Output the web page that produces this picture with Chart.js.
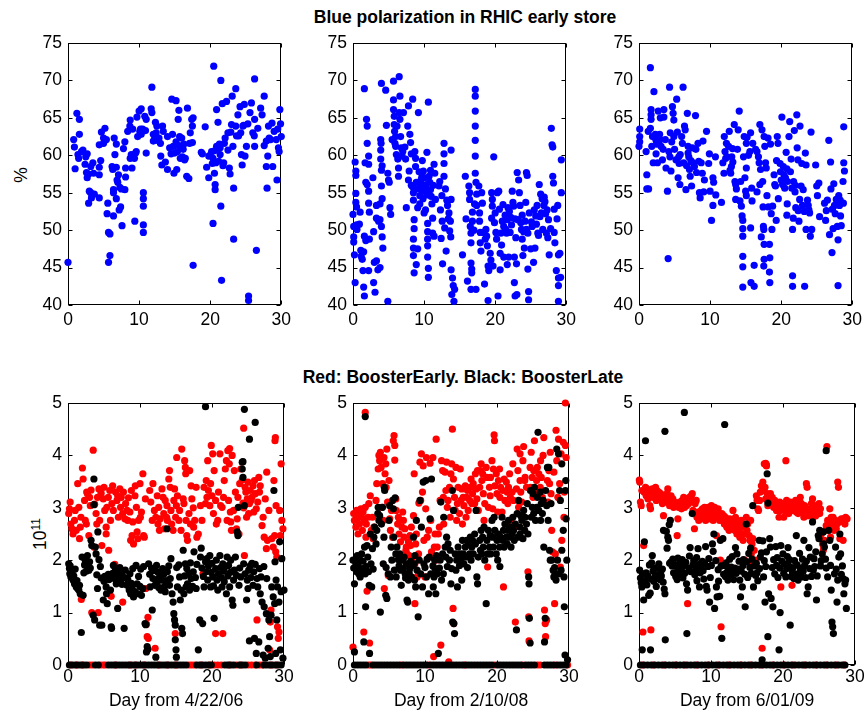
<!DOCTYPE html>
<html>
<head>
<meta charset="utf-8">
<script src="https://cdn.jsdelivr.net/npm/chart.js@4.4.1/dist/chart.umd.min.js"></script>
<style>
body { margin: 0; background: #fff; width: 868px; height: 713px; overflow: hidden; position: relative; font-family: "Liberation Sans", Arial, sans-serif; color: #000; }
canvas { position: absolute; }
.suptitle { position: absolute; font-weight: bold; font-size: 17.5px; white-space: nowrap; transform: translate(-50%, -50%); }
.ylab { position: absolute; font-size: 17.5px; white-space: nowrap; transform: translate(-50%, -50%) rotate(-90deg); }
.ylab sup { font-size: 12px; }
</style>
</head>
<body>
<div class="suptitle" style="left:465px; top:17px">Blue polarization in RHIC early store</div>
<div class="suptitle" style="left:463px; top:377px">Red: BoosterEarly. Black: BoosterLate</div>
<div class="ylab" style="left:21px; top:175px">%</div>
<div class="ylab" style="left:40px; top:534px">10<sup>11</sup></div>

<canvas id="pol06" width="296" height="340" style="left:0px; top:0px"></canvas>
<canvas id="pol08" width="296" height="340" style="left:285px; top:0px"></canvas>
<canvas id="pol09" width="296" height="340" style="left:571px; top:0px"></canvas>
<canvas id="int06" width="296" height="373" style="left:0px; top:340px"></canvas>
<canvas id="int08" width="296" height="373" style="left:285px; top:340px"></canvas>
<canvas id="int09" width="296" height="373" style="left:571px; top:340px"></canvas>

<script>
// ---- data: [day, value] ----
const xTicks = [0, 10, 20, 30];
const polTicks = [40, 45, 50, 55, 60, 65, 70, 75];
const intTicks = [0, 1, 2, 3, 4, 5];
const dayLabels = ['Day from 4/22/06', 'Day from 2/10/08', 'Day from 6/01/09'];

// blue polarization (%), 2006
const pol2006 = [
[0,45.7],[0.8,62.1],[0.9,61.1],[1.0,58.2],[1.25,65.6],[1.6,64.8],[1.6,62.8],[1.4,60.1],[1.5,59.6],[1.9,60.5],[2.1,60.7],
[2.4,58.8],[2.7,60.2],[2.6,57.7],[2.7,57.0],[2.9,57.5],[3.0,55.2],[2.9,53.6],[3.2,55.0],[3.3,54.3],[3.5,59.0],[3.2,58.5],[3.7,54.8],
[4.4,61.4],[4.4,58.4],[4.4,57.4],[4.4,54.3],[4.6,59.3],[4.7,63.1],[5.0,62.3],[5.2,63.6],[5.0,61.6],[5.4,62.1],
[5.6,53.6],[5.7,49.7],[5.9,49.5],[5.7,45.7],[5.9,46.6],[5.5,52.2],
[6.2,58.5],[6.3,58.1],[6.4,55.4],[6.4,55.0],[6.4,51.9],[6.5,62.3],[6.6,60.1],[6.8,61.5],[6.8,58.4],[6.8,54.2],
[6.9,56.7],[7.0,56.4],[7.1,57.4],[7.2,52.7],[7.4,53.1],[7.3,55.7],[7.5,55.5],[7.6,50.6],
[7.8,60.9],[8.0,61.8],[8.1,58.3],[8.1,57.1],[8.0,55.4],
[8.4,63.2],[8.7,63.9],[8.75,64.7],[8.9,60.1],[8.75,59.6],[9.0,58.3],[9.1,63.5],
[9.35,59.6],[9.5,60.3],[9.6,60.5],[9.4,51.2],[9.7,65.1],
[10.0,65.9],[10.3,66.2],[10.1,63.2],[10.3,62.8],[10.5,63.5],[10.6,55.0],[10.6,54.2],[10.6,53.2],[10.6,50.7],[10.6,49.7],
[10.8,65.2],[11.0,64.8],[11.0,60.3],[10.9,63.3],
[11.7,66.2],[11.8,69.1],[11.8,65.7],[12.0,62.8],[12.0,61.9],
[12.3,64.4],[12.4,63.0],[12.5,63.9],[12.8,62.3],[13.0,61.6],[13.05,59.9],[13.2,58.7],
[13.3,63.9],[13.4,63.2],[13.7,59.1],[14.0,62.5],[14.0,58.1],
[14.6,67.5],[14.7,62.8],[14.8,61.2],[15.0,60.3],[14.9,57.6],
[15.2,67.3],[15.3,58.1],[15.5,64.8],[15.6,66.0],[15.6,61.3],[15.8,59.6],[16.0,62.3],[16.1,59.8],[16.2,60.8],
[16.4,59.4],[16.5,59.6],[16.8,66.3],[16.7,57.2],[17.0,56.9],
[17.1,61.6],[17.2,63.0],[17.5,63.9],[17.4,64.8],[17.6,65.0],[17.5,61.7],[17.6,45.3],
[18.75,60.4],[18.9,60.2],[19.3,63.8],[19.5,58.4],[19.8,59.9],[19.8,57.0],
[20.2,60.5],[20.4,59.6],[20.4,50.9],[20.5,71.9],[20.6,57.6],[20.7,56.1],[20.7,55.4],[20.9,66.1],[20.9,61.2],[21.1,64.4],[21.2,59.2],
[21.4,61.0],[21.4,60.1],[21.5,70.0],[21.5,53.2],[21.6,43.3],[21.7,66.9],[21.8,58.6],[21.9,59.0],[22.1,62.3],[22.3,67.2],[22.5,63.0],[22.5,60.7],
[22.7,58.3],[22.8,57.5],[22.9,63.1],[23.0,64.1],[23.1,67.9],[23.2,61.2],[23.3,55.6],[23.3,48.8],[23.6,68.9],
[23.6,63.9],[23.7,62.6],[23.9,65.4],[24.2,66.5],[24.3,63.0],[24.4,60.1],[24.5,58.7],[24.6,63.9],[24.8,66.8],
[24.9,59.9],[25.1,61.2],[25.4,41.2],[25.4,40.6],[25.6,65.7],[25.8,67.0],[26.0,63.0],[26.2,62.6],[26.25,70.2],[26.25,61.2],[26.25,64.8],[26.5,47.3],[26.7,63.6],
[27.1,66.3],[27.3,65.4],[27.6,67.9],[27.6,61.3],[27.9,61.9],[27.9,58.5],[28.0,55.6],[28.1,59.9],[28.2,63.9],
[28.5,62.1],[28.7,64.3],[28.8,58.5],[29.0,63.2],[29.3,62.1],[29.4,56.7],[29.6,61.0],[29.8,66.1],[29.9,64.2],[29.7,60.5],[30,62.5],
[20.0,60.0],[20.3,58.9],[20.6,60.6],[20.8,59.0],[21.0,60.8],[21.3,61.5],[15.2,61.8],[15.4,60.5],[15.7,62.5],[16.3,61.5],[14.3,61.0],
[14.5,60.2],[12.6,62.0],[12.2,62.5],[9.2,59.8],[9.8,62.5],[10.2,63.5],[22.0,61.6],[24.0,62.6],[24.7,64.0],[25.3,64.2],[28.3,62.3],
[29.5,63.5],[3.6,57.6],[2.5,59.8]
];

// blue polarization (%), 2008
const pol2008 = [
[0,52.1],[0.1,50.5],[0.1,49.1],[0.1,48.4],[0.2,46.7],[0.3,43.0],[0.3,59.1],[0.4,57.9],[0.4,57.3],[0.4,54.9],[0.4,53.7],[0.5,53.1],[0.5,50.7],[0.56,50.1],
[0.9,50.8],[1.0,52.4],[1.1,47.3],[1.15,46.5],[1.3,46.1],[1.4,44.6],[1.5,47.1],[1.5,42.4],[1.6,68.9],[1.6,41.2],
[1.6,49.2],[1.7,59.0],[1.8,56.4],[1.8,48.6],[1.9,64.8],[2.0,63.9],[2.0,61.6],[2.0,56.1],[2.2,58.8],[2.2,59.9],[2.2,55.2],[2.2,53.6],[2.3,52.4],[2.3,48.8],[2.2,44.6],
[2.8,57.0],[2.9,49.8],[2.9,43.0],[3.0,45.7],[3.1,41.7],[3.3,51.6],[3.3,53.3],[3.3,45.9],[3.5,44.7],[3.6,51.2],
[3.8,51.4],[3.8,53.5],[3.9,60.7],[3.9,62.1],[3.95,61.6],[3.9,59.5],[4.0,58.0],[4.1,58.6],[4.0,55.9],[4.1,54.2],[4.0,50.5],[4.1,49.1],[4.2,47.6],[4.0,69.6],[3.8,45.0],
[4.6,68.7],[4.7,64.0],[4.9,57.6],[4.9,40.5],[5.0,56.7],[5.1,56.4],[5.2,53.0],[5.3,52.1],
[5.5,62.1],[5.7,69.9],[5.7,67.4],[5.7,66.1],[5.8,65.2],[5.8,64.1],[5.85,63.2],[5.9,61.6],[6.0,62.5],[6.0,61.2],[6.1,60.1],[6.2,63.9],
[6.4,58.3],[6.4,57.2],[6.5,70.5],[6.6,67.9],[6.5,65.7],[6.6,64.8],[6.7,62.5],[6.8,61.0],[6.9,59.9],[7.1,65.7],
[7.3,61.1],[7.4,59.5],[7.5,53.0],[7.7,63.9],[7.8,66.6],[7.8,56.7],[7.9,57.9],[8.0,62.8],[8.1,61.7],[8.2,60.2],[8.4,67.5],[8.4,55.8],
[8.5,55.0],[8.5,54.0],[8.5,48.8],[8.5,47.6],[8.5,46.6],[8.6,44.3],[8.6,50.2],[8.6,51.4],[8.7,60.5],[8.8,59.6],[8.8,58.5],[8.9,56.4],[8.9,45.4],[9.1,47.5],[9.1,53.0],
[9.2,65.7],[9.3,55.6],[9.4,54.6],[9.4,53.5],[9.5,56.3],[9.7,57.2],[9.75,59.3],[9.75,55.2],[9.85,54.2],[9.9,57.9],[10.0,52.3],[10.0,55.8],
[10.2,52.7],[10.3,56.1],[10.4,54.7],[10.4,60.4],[10.5,50.9],[10.5,49.8],[10.5,48.8],[10.5,47.9],[10.5,46.4],[10.6,44.9],[10.6,43.7],[10.6,67.1],
[10.7,57.2],[10.8,56.4],[10.9,55.4],[11.1,53.5],[11.2,51.6],[11.2,49.6],[11.4,49.2],[11.4,58.8],[11.5,57.6],[11.6,54.1],
[12.1,55.9],[12.2,56.5],[12.3,52.7],[12.4,48.9],[12.5,54.6],[12.55,51.2],[12.6,45.5],[12.8,61.6],[12.8,60.2],[12.8,58.9],[12.8,57.2],[12.9,50.3],[13.0,55.5],
[13.1,47.2],[13.2,54.0],[13.3,53.3],[13.4,51.5],[13.5,52.3],[13.6,49.9],[13.7,51.2],[13.75,49.1],[13.8,60.7],[13.8,54.1],[13.8,44.7],
[13.9,41.4],[14.0,43.6],[14.1,42.6],[14.2,40.5],[14.3,42.1],
[15.4,46.7],[15.8,57.2],[15.9,51.5],[16.1,43.2],[16.3,55.9],[16.4,55.0],[16.4,54.1],[16.5,50.5],[16.6,49.6],[16.6,48.3],[16.6,45.6],[16.7,44.8],[16.7,44.3],[16.6,42.1],
[16.8,51.2],[16.8,52.4],[17.0,50.0],[17.1,53.5],[17.2,57.6],[17.2,68.8],[17.2,67.9],[17.2,65.9],[17.2,63.9],[17.2,62.0],[17.2,59.9],[17.3,56.4],[17.3,42.1],[17.4,54.8],[17.4,53.3],
[17.7,55.9],[17.8,52.3],[17.8,51.2],[17.9,49.7],[17.9,48.3],[18.0,47.2],[18.1,55.0],[18.2,53.6],[18.3,49.7],
[18.5,42.8],[18.6,48.8],[18.7,50.1],[18.8,49.2],[18.9,47.9],[19.0,45.2],[19.0,40.6],[19.1,44.6],[19.3,46.9],
[19.4,46.0],[19.5,51.6],[19.5,55.0],[19.6,54.1],[19.6,53.2],[19.7,45.2],[19.8,59.8],[19.9,51.0],[20.0,52.3],[20.1,49.7],[20.2,48.8],
[20.3,55.0],[20.4,41.2],[20.5,55.2],[20.7,44.7],[20.7,46.9],[20.8,49.6],[20.9,48.0],[21.0,51.2],[21.1,53.4],[21.2,46.4],
[21.4,52.0],[21.5,50.1],[21.6,49.6],[21.7,45.4],[21.7,51.4],[21.8,53.0],[21.9,46.4],[22.1,49.7],[22.2,51.7],[22.3,50.7],
[22.4,55.2],[22.5,53.7],[22.6,53.2],[22.7,43.0],[22.7,46.4],[22.8,41.2],[22.9,49.0],[23.0,45.5],[23.05,41.4],[23.1,57.7],[23.2,51.4],[23.3,56.7],
[23.4,55.0],[23.5,53.3],[23.7,50.1],[23.8,48.8],[23.8,52.0],[23.9,46.6],[24.1,47.6],[24.2,51.2],[24.3,53.7],[24.4,50.1],
[24.4,57.7],[24.5,57.3],[24.6,49.6],[24.6,44.8],[24.7,41.8],[24.7,40.7],[24.8,52.3],[25.0,47.5],[25.1,51.1],[25.4,45.7],
[25.5,52.7],[25.6,47.6],[25.7,51.9],[25.9,53.3],[26.0,49.6],[26.1,49.3],[26.2,56.1],[26.4,54.8],[26.5,52.3],[26.6,54.2],[26.7,50.1],
[26.85,53.3],[26.9,54.4],[27.0,53.8],[27.2,49.6],[27.3,52.7],[27.4,49.0],[27.5,51.4],[27.6,46.7],[27.8,50.2],[27.9,63.6],[28.0,61.4],[28.1,61.1],[28.1,57.2],[28.2,56.3],[28.3,52.8],[28.3,49.7],[28.4,48.3],
[28.6,44.6],[28.7,51.5],[28.8,53.3],[28.9,46.7],[28.9,43.6],[28.9,42.6],[28.9,40.5],[29.1,46.9],[29.2,43.7],[29.3,59.4],[29.3,55.0],
[9.0,55.5],[9.6,56.8],[10.1,57.0],[10.6,55.2],[11.0,54.5],[11.3,56.0],[9.3,57.8],[10.9,58.0],[22.0,52.5],[22.8,51.5],[23.6,51.0],
[24.0,49.8],[25.2,50.5],[25.8,50.8],[26.3,51.8],[27.1,52.2],[21.2,50.5],[20.6,52.8],[8.2,56.0],[7.0,60.5],[6.3,59.5]
];

// blue polarization (%), 2009
const pol2009 = [
[0,61.2],[0.1,63.5],[0.1,62.5],[0.1,61.8],[1.1,57.4],[1.1,55.5],[1.35,55.5],
[1.6,71.7],[1.7,66.1],[1.7,65.4],[1.7,64.8],[1.6,63.6],[1.8,61.2],[1.9,62.5],[2.0,59.0],[2.1,68.5],[2.3,62.8],[2.4,62.0],[2.4,60.2],[2.6,59.0],
[2.7,65.9],[2.9,62.8],[3.0,62.1],[3.0,65.0],[3.1,61.2],[3.3,59.4],[3.5,66.1],[3.5,65.1],[3.7,62.1],
[3.8,58.3],[4.0,55.2],[4.1,46.2],[4.2,60.5],[4.3,69.1],[4.35,59.8],[4.4,63.0],[4.5,57.9],[4.7,66.5],[4.8,65.6],[4.9,64.7],[4.9,62.5],[5.0,60.8],
[5.2,59.4],[5.3,67.5],[5.4,63.1],[5.5,57.0],[5.65,58.9],[5.75,56.1],[5.8,60.1],[6.0,62.5],[6.1,61.6],[6.2,69.1],[6.3,59.0],
[6.4,63.9],[6.5,63.4],[6.6,55.4],[6.7,58.6],[6.8,65.6],[6.9,61.2],[7.0,59.8],[7.1,58.1],[7.2,57.2],[7.4,55.9],[7.5,61.0],[7.6,59.0],
[7.8,58.5],[7.95,65.3],[8.0,60.8],[8.1,57.7],[8.3,61.6],[8.5,55.0],[8.6,54.3],[8.75,59.0],[8.9,57.6],[9.0,61.9],[9.1,55.1],[9.2,56.7],
[9.5,63.2],[9.8,58.9],[9.9,60.2],[10.0,55.2],[10.2,51.3],[10.4,57.0],[10.4,53.3],[10.5,56.4],[10.75,59.8],[10.8,54.7],
[11.6,53.7],[11.8,59.0],[11.95,57.6],[12.0,62.5],[12.1,60.5],[12.2,59.6],[12.3,61.6],[12.6,61.2],[12.7,63.2],[12.8,58.0],
[12.9,57.6],[13.05,59.8],[13.15,60.9],[13.2,59.1],[13.4,64.1],[13.5,56.5],[13.6,56.1],[13.7,55.5],[13.6,54.1],[13.85,60.8],[13.95,63.4],
[14.1,65.9],[14.2,53.9],[14.3,56.5],[14.4,53.2],[14.5,51.9],[14.6,51.3],[14.6,50.2],[14.6,49.2],[14.6,46.5],[14.6,45.1],[14.6,42.4],[14.7,59.8],[14.8,62.5],
[14.9,57.0],[15.0,55.2],[15.1,54.6],[15.1,58.3],[15.1,61.6],[15.2,62.4],[15.4,60.0],[15.6,60.5],[15.7,63.0],[15.7,50.3],[15.75,43.0],
[15.85,55.6],[15.9,53.9],[16.0,61.6],[16.2,45.3],[16.2,42.5],[16.4,60.8],[16.6,60.5],[16.6,55.1],[16.8,59.8],[16.9,59.0],[17.0,64.1],
[17.0,56.1],[17.1,58.1],[17.2,49.1],[17.3,63.4],[17.4,56.5],[17.45,53.1],[17.5,50.5],[17.55,50.1],[17.6,48.1],[17.6,46.1],[17.55,45.2],[17.6,62.5],[17.7,61.2],
[17.8,59.0],[17.9,58.3],[18.0,54.6],[18.15,62.3],[18.2,53.1],[18.35,48.1],[18.35,44.4],[18.4,46.3],[18.4,43.0],[18.5,61.5],[18.6,52.2],[18.7,50.1],[18.8,53.2],
[19.0,57.4],[19.1,56.1],[19.2,55.9],[19.3,51.3],[19.35,59.3],[19.45,62.5],[19.55,61.6],[19.6,54.2],[19.85,58.9],[20.0,56.7],
[20.1,65.1],[20.2,56.1],[20.3,58.5],[20.4,57.4],[20.5,55.6],[20.7,60.4],[20.8,52.0],[20.8,58.2],[20.85,53.5],[20.9,56.5],
[21.1,62.5],[21.2,64.5],[21.3,57.8],[21.4,59.5],[21.5,55.6],[21.6,50.1],[21.6,43.9],[21.6,42.5],[21.7,51.6],[21.75,56.5],[21.85,63.3],
[21.95,55.1],[22.05,53.0],[22.2,65.4],[22.25,61.0],[22.35,59.4],[22.4,52.6],[22.5,51.2],[22.6,54.1],[22.65,63.9],[22.8,55.9],[22.9,58.9],
[23.0,53.3],[23.1,55.4],[23.25,52.5],[23.3,42.5],[23.4,60.3],[23.5,50.1],[23.5,58.7],[23.7,54.0],[23.9,52.7],[24.0,52.3],[24.1,49.2],
[24.2,63.1],[24.3,50.1],[24.85,58.7],[25.0,55.9],[25.1,54.6],[25.3,56.3],[25.4,51.8],[26.1,53.6],[26.25,51.3],[26.35,52.6],[26.5,54.0],
[26.7,62.0],[26.8,49.4],[26.95,59.1],[27.0,55.5],[27.15,47.0],[27.3,50.2],[27.4,56.2],[27.5,53.3],[27.6,52.2],[27.75,54.1],[27.9,50.5],[28.0,48.7],[28.0,42.6],
[28.1,54.6],[28.2,53.3],[28.35,51.9],[28.45,50.6],[28.7,56.5],[28.75,53.6],[28.8,63.8],[28.8,59.0],[28.9,57.9],
[2.5,61.5],[3.4,60.8],[4.6,61.8],[5.6,59.8],[6.9,60.3],[7.3,59.3],[8.4,59.2],[12.4,59.8],[13.0,58.5],[19.9,57.8],[20.6,57.0],
[22.0,56.0],[23.8,53.3],[27.2,52.8],[28.3,54.0],[1.0,60.5],[1.3,63.2]
];

// intensity (1e11), 2006: BoosterEarly (red), BoosterLate (black)
const early2006 = [
[0.1,2.89],[0.2,2.98],[0.3,3.11],[0.4,2.69],[0.55,2.6],[0.7,2.5],[0.9,2.76],[1.0,2.95],[1.15,2.57],[1.35,3.46],[1.5,3.01],[1.6,2.41],[1.7,2.63],[1.8,2.82],[1.85,1.25],
[2.0,3.76],[2.1,3.55],[2.3,3.14],[2.4,2.76],[2.55,2.69],[2.6,3.3],[2.7,3.27],[2.9,2.47],[3.0,3.2],[3.1,3.04],[3.2,3.34],[3.3,1.0],[3.5,4.1],[3.6,2.25],[3.7,3.07],
[3.9,2.89],[4.0,2.69],[4.1,3.2],[4.2,1.0],[4.3,3.36],[4.4,2.76],[4.6,3.28],[4.7,2.28],[4.9,3.17],[5.0,3.39],[5.1,2.95],[5.3,2.63],
[5.3,2.5],[5.4,3.01],[5.6,3.2],[5.65,2.19],[5.8,3.33],[5.9,2.76],[6.0,1.31],[6.1,3.08],[6.2,3.42],[6.3,2.95],[6.5,1.92],
[6.6,3.3],[6.8,3.14],[6.9,3.23],[7.0,2.82],[7.2,3.36],[7.3,3.01],[7.4,3.2],[7.6,2.89],[7.6,1.2],[7.7,3.3],[7.9,2.79],[8.0,3.08],
[8.2,2.95],[8.3,2.76],[8.4,3.19],[8.6,2.92],[8.7,2.38],[8.8,3.33],[8.9,2.47],[9.0,2.73],[9.1,2.31],[9.3,3.23],[9.35,3.42],[9.5,3.01],
[9.6,2.54],[9.7,2.41],[9.8,2.76],[10.0,3.46],[10.05,2.82],[10.2,2.92],[10.4,3.65],[10.5,2.47],[10.6,2.44],[10.75,3.17],[10.9,0.78],[11.0,0.54],[11.1,0.91],[11.15,0.51],[10.8,1.46],
[11.35,3.33],[11.5,3.11],[11.7,2.76],[11.8,3.46],[12.0,2.95],[12.1,0.32],[12.2,2.82],[12.4,3.23],[12.5,2.69],[12.6,3.01],[12.7,2.57],[12.8,2.79],
[13.05,3.36],[13.2,3.2],[13.3,2.89],[13.4,2.6],[13.5,3.14],[13.7,2.82],[13.75,3.04],[13.8,2.76],[14.0,3.55],[14.1,3.71],[14.2,3.39],
[14.3,2.95],[14.4,2.69],[14.6,2.57],[14.7,3.14],[14.8,3.36],[14.9,0.6],[14.95,2.82],[15.05,3.04],[15.1,3.96],[15.2,3.23],[15.4,2.76],[15.5,2.95],
[15.7,2.57],[15.8,4.12],[16.0,3.17],[16.1,3.08],[16.2,3.9],[16.3,3.77],[16.35,3.65],[16.4,2.76],[16.5,2.47],[16.6,2.38],[16.8,2.89],[16.9,3.71],
[17.0,2.69],[17.1,3.42],[17.2,3.17],[17.4,3.0],[17.45,2.63],[17.6,2.76],[17.8,3.39],[17.9,2.44],[18.1,2.5],[18.4,3.04],
[18.6,2.76],[18.75,1.74],[18.9,3.39],[19.1,3.08],[19.2,3.52],[19.3,3.2],[19.4,3.9],[19.5,3.33],[19.7,3.04],[19.8,3.46],[19.9,4.19],[20.0,3.23],
[20.1,4.03],[20.2,2.89],[20.3,3.71],[20.5,3.14],[20.5,0.6],[20.6,2.69],[20.8,2.76],[20.9,3.3],[21.1,4.03],[21.2,3.04],[21.4,3.01],[21.5,0.6],
[21.6,3.2],[21.7,3.52],[21.85,3.74],[22.0,3.9],[22.1,2.76],[22.2,4.09],[22.3,3.14],[22.4,3.84],[22.45,4.13],[22.55,2.92],[22.6,2.73],[22.7,2.57],[22.8,4.0],
[23.0,2.95],[23.1,3.71],[23.25,3.3],[23.4,2.6],[23.5,2.79],[23.6,3.2],[23.75,2.5],[23.85,3.46],[24.0,3.74],[24.2,3.53],
[24.3,3.09],[24.4,3.0],[24.5,2.09],[24.6,3.39],[24.7,3.3],[24.8,2.82],[24.9,3.17],[25.0,3.49],[25.1,2.89],[25.2,3.08],[25.3,3.33],[25.4,3.14],
[25.55,3.2],[25.7,3.42],[25.8,2.92],[25.9,3.52],[26.0,3.27],[26.15,2.98],[26.25,0.86],[26.35,3.11],[26.5,3.58],[26.6,3.3],[26.7,3.42],
[26.95,2.66],[27.1,2.82],[27.25,2.44],[27.4,3.17],[27.55,2.22],[27.6,3.68],[27.7,2.38],[27.9,2.95],[28.0,0.29],[28.1,0.82],[28.2,1.05],
[28.3,2.41],[28.5,2.25],[28.6,3.52],[28.7,2.47],[28.75,4.28],[28.85,2.16],[28.9,3.04],[29.0,2.06],[29.1,0.73],[29.2,0.51],[29.3,0.63],[29.4,2.95],[29.5,2.47],[29.6,3.84],[29.7,2.76],[29.85,2.6],
[24.4,4.52],[28.8,4.34],
[0.4,0],[1.2,0],[2.0,0],[3.0,0],[3.4,0],[4.5,0],[4.9,0],[5.2,0],[6.6,0],[8.6,0],[9.4,0],[10.6,0],[12.6,0],[13.8,0],[15.0,0],[16.8,0],
[17.2,0],[17.6,0],[18.5,0],[19.7,0],[20.3,0],[20.8,0],[21.3,0],[22.4,0],[23.4,0],[24.0,0],[25.0,0],[25.5,0],[26.0,0],[26.6,0],[27.0,0],[28.2,0],[29.0,0]
];

const late2006 = [
[0.1,1.93],[0.2,1.84],[0.25,1.74],[0.3,1.89],[0.4,1.68],[0.55,1.78],[0.7,1.62],[0.8,1.7],[0.9,1.55],[1.0,1.83],[1.15,1.49],[1.25,1.61],[1.35,1.46],[1.5,1.43],[1.6,1.52],[1.7,1.36],[1.85,0.62],
[1.95,2.06],[2.1,1.33],[2.2,1.76],[2.3,1.91],[2.4,2.0],[2.55,1.79],[2.6,1.95],[2.7,2.09],[2.9,1.81],[3.0,1.97],[3.1,1.85],[3.2,2.38],[3.3,2.28],[3.5,0.95],[3.6,3.55],[3.6,3.06],
[3.7,0.86],[3.8,2.25],[3.9,2.12],[4.0,1.72],[4.1,1.46],[4.15,2.54],[4.3,2.01],[4.4,0.76],[4.5,1.88],[4.6,1.66],[4.7,0.76],[4.9,1.24],
[5.0,1.6],[5.1,1.69],[5.3,1.49],[5.35,1.36],[5.45,1.17],[5.6,1.73],[5.7,1.63],[5.9,1.43],[6.0,0.73],[6.05,0.7],[6.2,1.75],[6.3,1.9],[6.4,1.65],
[6.5,1.71],[6.6,1.82],[6.7,1.55],[6.8,1.79],[6.9,1.08],[7.05,1.67],[7.2,1.86],[7.3,1.61],[7.4,1.77],[7.5,1.54],[7.6,1.69],[7.8,0.7],[7.95,1.81],
[8.1,1.66],[8.2,1.52],[8.3,1.63],[8.5,1.43],[8.6,1.74],[8.7,1.36],[8.8,1.56],[8.9,1.49],[9.0,1.84],[9.1,1.3],[9.3,1.4],[9.45,1.9],
[9.6,1.55],[9.75,1.36],[9.8,1.69],[10.0,1.5],[10.1,1.83],[10.2,1.33],[10.4,1.46],[10.5,1.88],[10.7,0.79],[10.8,0.77],[10.9,0.25],[11.0,0.35],[11.1,0.3],
[11.2,1.93],[11.35,1.73],[11.4,1.49],[11.6,1.85],[11.7,1.05],[11.8,1.65],[11.9,1.8],[12.05,1.52],[12.2,0.15],[12.3,1.9],[12.4,1.59],[12.5,1.77],
[12.6,1.48],[12.7,1.67],[12.9,1.43],[13.0,1.62],[13.15,1.84],[13.3,1.73],[13.4,1.5],[13.5,1.4],[13.6,1.61],[13.75,2.6],[13.8,1.78],[14.0,1.89],
[14.1,1.52],[14.2,1.65],[14.3,2.03],[14.45,1.36],[14.6,1.2],[14.7,0.98],[14.8,0.86],[14.9,0.76],[14.9,0.48],[15.0,0.29],[15.05,0.15],[15.1,1.86],[15.2,1.49],
[15.4,1.91],[15.5,1.68],[15.6,1.24],[15.7,1.43],[15.8,0.7],[15.9,0.6],[16.0,2.19],[16.1,1.36],[16.2,1.7],[16.3,1.93],[16.4,1.49],[16.5,1.84],
[16.6,1.55],[16.8,1.75],[16.9,1.43],[17.0,1.95],[17.1,1.65],[17.3,1.5],[17.4,1.78],[17.5,2.16],[17.7,1.67],[17.8,1.46],[17.9,1.92],
[18.1,0.29],[18.3,0.86],[18.4,2.06],[18.5,2.23],[18.6,1.85],[18.7,0.79],[18.8,1.69],[18.9,1.49],[19.1,1.97],[19.2,1.78],[19.3,2.03],[19.4,1.62],
[19.5,1.89],[19.7,2.09],[19.8,1.49],[19.9,1.77],[20.0,1.94],[20.1,1.68],[20.2,1.51],[20.3,0.89],[20.5,1.84],[20.6,2.0],[20.7,1.62],[20.8,1.43],
[20.9,1.74],[21.1,2.09],[21.2,1.86],[21.3,1.67],[21.4,1.49],[21.5,1.93],[21.6,1.79],[21.7,1.59],[21.85,1.88],[22.0,1.36],[22.1,2.06],[22.2,1.7],
[22.3,1.9],[22.45,1.49],[22.55,1.77],[22.6,2.0],[22.8,1.24],[22.9,1.14],[23.0,1.62],[23.1,1.81],[23.25,2.06],[23.4,1.71],[23.5,2.54],[23.6,2.47],[23.65,3.01],
[23.75,1.52],[23.85,1.85],[24.0,1.68],[24.2,3.87],[24.2,3.74],[24.3,3.58],[24.4,1.93],[24.5,3.04],[24.6,1.74],[24.8,1.24],[24.9,1.62],[25.0,1.46],
[25.1,1.81],[25.2,0.46],[25.3,1.89],[25.4,1.67],[25.55,1.94],[25.7,1.52],[25.8,1.78],[25.9,0.51],[26.0,1.92],[26.15,0.22],[26.25,1.65],[26.35,1.49],
[26.5,0.44],[26.6,1.84],[26.7,1.36],[26.8,1.68],[26.95,1.2],[27.1,0.19],[27.2,1.88],[27.25,1.11],[27.4,0.13],[27.55,0.98],[27.6,1.65],
[27.8,0.32],[27.9,0.86],[28.0,0.54],[28.1,0.16],[28.2,0.95],[28.3,1.49],[28.5,1.3],[28.6,3.33],[28.7,1.17],[28.75,1.97],[28.85,0.22],[28.9,1.62],[29.0,0.86],[29.1,1.49],
[29.3,1.2],[29.4,2.35],[29.5,0.29],[29.6,1.4],[29.7,2.03],[29.85,0.13],[30.0,1.43],
[19.1,4.93],[24.5,4.88],[26.0,4.63],[25.2,4.31],[24.3,3.88],
[0.2,0],[0.6,0],[1.0,0],[1.4,0],[1.8,0],[2.2,0],[2.6,0],[3.8,0],[4.2,0],[5.6,0],[6.0,0],[6.4,0],[6.8,0],[7.2,0],[7.6,0],[8.0,0],[8.4,0],[8.8,0],[9.2,0],
[9.6,0],[10.0,0],[10.4,0],[10.8,0],[11.2,0],[11.6,0],[12.0,0],[12.4,0],[12.8,0],[13.2,0],[13.6,0],[14.0,0],[14.4,0],[14.8,0],[15.2,0],[15.6,0],[16.0,0],[16.4,0],
[17.9,0],[18.3,0],[18.7,0],[19.1,0],[19.5,0],[19.9,0],[21.8,0],[22.2,0],[22.6,0],[23.0,0],[23.8,0],[24.2,0],[24.6,0],[26.2,0],
[27.2,0],[27.6,0],[28.0,0],[28.4,0],[28.8,0],[29.2,0],[29.6,0]
];

// intensity (1e11), 2008
const early2008 = [
[0,0.34],[0.1,2.89],[0.2,2.76],[0.4,2.63],[0.5,2.95],[0.6,2.79],[0.7,2.5],[0.8,2.89],[0.9,2.69],[1.1,2.98],[1.2,2.82],[1.3,2.57],[1.4,2.92],[1.5,0.63],[1.6,2.76],[1.7,3.01],
[1.8,2.44],[1.85,2.69],[1.95,1.41],[2.1,2.82],[2.2,3.08],[2.3,0.42],[2.4,3.23],[2.55,2.57],[2.7,2.82],[2.8,2.41],[2.9,2.63],
[3.2,3.14],[3.3,3.46],[3.5,3.74],[3.6,4.0],[3.7,3.9],[3.8,4.06],[3.9,3.77],[4.0,3.01],[4.1,3.46],[4.2,2.76],[4.3,3.96],[4.35,1.46],[4.45,3.65],[4.55,3.84],[4.6,3.39],
[4.7,4.12],[4.8,3.11],[4.9,1.71],[5.0,3.52],[5.1,2.79],[5.2,2.57],[5.35,2.95],[5.5,2.44],[5.6,4.28],[5.7,4.38],[5.8,4.19],[5.8,3.91],[5.95,3.17],
[6.0,2.95],[6.2,2.69],[6.3,2.82],[6.4,2.5],[6.5,2.76],[6.6,2.35],[6.8,2.63],[6.9,2.92],[7.0,2.76],[7.1,2.44],
[7.2,2.6],[7.35,2.19],[7.4,2.25],[7.5,2.12],[7.7,2.35],[7.8,2.09],[7.9,2.47],[8.0,2.28],[8.1,2.63],[8.3,2.06],[8.4,2.85],[8.5,3.65],[8.6,1.93],
[8.6,1.17],[8.7,2.31],[8.8,2.5],[8.9,1.68],[9.1,2.12],[9.15,3.09],[9.3,3.87],[9.4,3.14],[9.5,4.03],[9.65,3.3],[9.75,3.8],[9.85,2.38],[10.0,1.68],
[10.1,2.98],[10.2,3.96],[10.3,2.44],[10.5,2.57],[10.6,2.06],[10.7,3.85],[10.8,2.76],[10.9,2.16],[11.1,3.96],[11.2,0.16],
[11.3,2.25],[11.4,2.5],[11.55,4.31],[11.6,2.0],[11.7,2.25],[11.85,2.5],[12.0,2.63],[12.1,3.14],[12.2,0.38],[12.3,3.9],[12.45,3.71],[12.55,3.2],
[12.6,2.69],[12.8,3.68],[12.9,3.33],[13.0,3.87],[13.1,3.01],[13.2,3.14],[13.3,0.06],[13.4,3.39],[13.5,2.82],[13.6,3.65],[13.7,3.84],
[13.8,4.5],[13.9,1.08],[13.95,3.55],[14.0,0.79],[14.1,3.2],[14.2,2.95],[14.3,3.77],[14.4,2.76],[14.5,3.08],[14.6,3.39],[14.8,2.89],[14.9,3.74],
[15.0,3.14],[15.1,3.36],[15.2,2.69],[15.3,3.2],[15.4,3.04],[15.6,3.42],[15.7,2.82],[15.8,3.2],[15.9,3.33],[16.0,2.95],[16.2,3.14],[16.3,3.39],
[16.4,3.55],[16.5,3.08],[16.6,3.27],[16.7,3.46],[16.9,3.08],[17.0,3.65],[17.1,3.36],[17.2,3.17],[17.3,3.71],[17.4,2.95],[17.6,3.39],
[17.7,3.71],[17.8,3.84],[17.9,3.52],[18.0,3.65],[18.1,3.27],[18.2,2.76],[18.3,3.08],[18.5,3.77],[18.6,3.58],[18.7,1.87],[18.8,3.01],
[18.95,3.39],[19.05,3.23],[19.1,3.58],[19.3,3.9],[19.4,2.98],[19.5,3.74],[19.6,4.39],[19.65,4.28],[19.7,3.42],[19.9,3.65],[20.0,3.27],
[20.1,2.92],[20.2,3.52],[20.35,3.74],[20.4,3.2],[20.5,3.39],[20.7,2.92],[20.8,3.33],[20.9,1.49],[21.0,3.55],[21.1,3.14],[21.3,3.49],
[21.4,3.3],[21.5,3.08],[21.6,3.39],[21.75,3.65],[21.85,3.2],[21.95,2.76],[22.1,3.3],[22.2,3.84],[22.3,3.14],[22.4,2.63],[22.55,0.82],
[22.7,3.36],[22.8,4.12],[22.9,3.71],[23.0,3.01],[23.2,3.52],[23.2,4.03],[23.3,3.3],[23.45,3.11],[23.6,3.9],[23.7,4.17],[23.85,3.52],
[23.9,3.58],[24.1,3.39],[24.3,1.78],[24.4,0.92],[24.45,0.46],[24.6,3.77],[24.65,3.39],[24.75,4.06],[24.9,3.58],[25.0,3.2],[25.1,3.71],
[25.2,4.28],[25.35,3.36],[25.5,3.52],[25.6,3.77],[25.7,3.27],[25.8,3.65],[26.0,3.39],[26.05,3.9],[26.15,3.58],[26.3,3.2],[26.4,4.0],
[26.5,4.34],[26.6,1.05],[26.7,0.79],[26.75,0.54],[26.9,0.86],[27.0,3.52],[27.1,3.11],[27.2,3.71],[27.3,3.46],[27.4,4.06],[27.5,3.27],[27.6,2.57],[27.7,2.16],
[27.9,3.68],[28.0,1.17],[28.1,2.12],[28.2,4.48],[28.3,3.9],[28.45,3.2],[28.55,4.31],[28.7,3.46],[28.8,1.87],[28.9,4.03],[29.0,2.38],[29.2,4.25],[29.3,2.82],[29.35,3.3],[29.5,4.19],[29.6,3.96],
[1.7,4.82],[29.5,5.0],
[2.2,0],[2.5,0],[6.7,0],[10.5,0],[15.5,0],[19.7,0],[23.6,0],[25.6,0],[26.0,0],[28.1,0],[29.8,0]
];

const late2008 = [
[0,2.0],[0.1,1.85],[0.2,1.55],[0.2,0.25],[0.4,1.93],[0.5,1.78],[0.6,2.09],[0.7,1.9],[0.8,1.74],[0.9,2.02],[1.0,1.68],[1.2,2.12],[1.3,1.84],[1.4,1.98],[1.5,0.44],[1.6,2.25],[1.7,1.74],
[1.75,1.11],[1.85,1.88],[1.95,2.28],[2.05,2.06],[2.15,1.78],[2.25,1.52],[2.3,0.22],[2.4,2.5],[2.5,1.93],[2.6,1.49],[2.7,2.22],[2.8,1.83],[2.9,2.44],
[3.0,2.63],[3.2,2.31],[3.3,2.57],[3.45,2.89],[3.5,3.01],[3.6,2.76],[3.7,2.85],[3.8,1.01],[3.95,2.69],[4.1,3.01],[4.2,1.93],[4.3,2.44],[4.35,3.39],[4.4,3.33],
[4.55,1.33],[4.6,1.86],[4.7,1.27],[4.9,1.74],[5.0,2.76],[5.1,3.04],[5.2,1.68],[5.3,2.25],[5.4,2.0],[5.5,3.14],[5.6,2.98],[5.65,2.44],[5.75,1.81],
[5.85,3.19],[5.95,2.12],[6.0,1.68],[6.1,2.25],[6.3,2.01],[6.4,1.89],[6.5,2.12],[6.6,1.81],[6.7,1.52],[6.9,2.0],[7.0,1.84],
[7.1,2.06],[7.25,1.74],[7.3,1.66],[7.4,1.93],[7.5,1.24],[7.6,1.2],[7.7,1.62],[7.8,1.76],[7.9,1.84],[8.0,1.98],[8.1,1.68],[8.3,1.9],[8.4,2.44],
[8.5,1.93],[8.55,1.62],[8.6,2.09],[8.7,1.49],[8.8,2.76],[8.9,1.81],[9.05,0.92],[9.2,2.0],[9.3,3.14],[9.4,1.74],[9.5,2.63],[9.65,1.49],[9.75,3.49],
[9.85,1.93],[10.0,1.86],[10.1,3.52],[10.2,1.68],[10.3,2.02],[10.5,1.36],[10.6,2.06],[10.7,2.79],[10.8,1.74],[10.9,3.55],[11.1,1.89],
[11.15,1.49],[11.25,1.68],[11.35,2.0],[11.4,1.84],[11.5,1.36],[11.6,2.09],[11.7,1.74],[11.85,0.22],[12.0,1.85],[12.1,2.0],[12.2,3.11],
[12.3,1.62],[12.45,2.12],[12.55,1.74],[12.6,2.82],[12.8,2.25],[12.9,2.06],[13.0,2.44],[13.1,1.88],[13.2,2.31],[13.4,2.0],[13.5,2.19],
[13.6,1.55],[13.7,1.84],[13.8,3.33],[13.85,0.82],[13.95,2.95],[14.0,0.79],[14.1,0.6],[14.2,2.12],[14.3,1.81],[14.4,2.0],[14.5,1.49],[14.6,2.25],
[14.8,1.9],[14.9,2.12],[15.0,2.0],[15.1,1.62],[15.2,2.38],[15.3,2.12],[15.4,1.93],[15.6,2.25],[15.7,2.06],[15.8,2.38],[15.9,1.86],[16.0,2.31],
[16.2,2.12],[16.3,2.44],[16.4,2.0],[16.5,2.25],[16.6,2.38],[16.7,2.12],[16.9,2.5],[17.0,2.31],[17.1,2.95],[17.2,1.68],[17.3,1.55],[17.4,2.06],
[17.6,2.38],[17.7,2.19],[17.8,2.57],[17.9,2.12],[18.0,2.44],[18.1,2.25],[18.2,2.63],[18.3,2.0],[18.5,1.17],[18.6,2.38],[18.7,2.12],[18.8,2.57],
[18.95,2.25],[19.05,2.47],[19.1,2.12],[19.3,2.76],[19.4,2.44],[19.5,2.25],[19.6,2.82],[19.7,2.57],[19.9,2.12],[20.0,2.38],[20.1,2.0],[20.2,2.5],
[20.35,2.25],[20.4,1.88],[20.5,2.44],[20.7,2.82],[20.8,2.38],[20.9,2.57],[21.0,2.25],[21.1,2.69],[21.3,2.44],[21.4,2.31],[21.5,2.57],
[21.6,2.76],[21.75,2.44],[21.85,2.63],[21.95,2.25],[22.1,2.5],[22.2,2.82],[22.3,2.57],[22.4,2.38],[22.55,2.69],[22.7,0.67],[22.8,2.89],[22.9,2.44],
[23.0,3.14],[23.2,2.63],[23.2,2.5],[23.3,2.85],[23.45,2.76],[23.6,2.41],[23.7,2.95],[23.85,2.57],[23.9,2.82],[24.1,2.69],[24.2,3.08],
[24.3,2.5],[24.4,1.68],[24.45,1.55],[24.5,0.89],[24.6,0.42],[24.65,3.33],[24.75,2.82],[24.9,3.01],[25.0,3.27],[25.1,2.89],[25.2,3.39],[25.35,2.76],
[25.5,3.01],[25.6,3.2],[25.7,4.44],[25.8,2.95],[26.0,3.3],[26.05,2.76],[26.15,3.08],[26.3,2.89],[26.4,3.14],[26.5,2.25],[26.6,0.44],[26.7,0.89],
[26.75,3.33],[26.9,3.04],[27.0,3.77],[27.1,2.76],[27.2,3.77],[27.3,2.19],[27.4,2.0],[27.5,3.08],[27.6,2.0],[27.8,1.81],[27.9,1.68],[28.0,1.86],
[28.1,1.74],[28.2,1.62],[28.3,4.12],[28.4,2.0],[28.55,4.03],[28.6,1.74],[28.7,3.33],[28.8,3.14],[28.9,1.81],[29.0,3.84],[29.0,2.19],[29.2,2.57],[29.3,1.68],
[29.35,1.11],[29.45,0.19],[29.5,3.33],[29.55,3.52],[29.6,2.79],[29.7,2.0],[29.8,0.1],
[1.7,4.74],
[0.2,0],[0.6,0],[1.0,0],[1.4,0],[1.8,0],[2.8,0],[3.2,0],[3.6,0],[4.0,0],[4.4,0],[4.8,0],[5.2,0],[5.6,0],[6.0,0],[6.4,0],
[7.0,0],[7.4,0],[7.8,0],[8.2,0],[8.6,0],[9.0,0],[9.4,0],[9.8,0],[10.2,0],[10.8,0],[11.2,0],[11.6,0],[12.0,0],[12.4,0],[12.8,0],[13.2,0],[13.6,0],
[14.0,0],[14.4,0],[14.8,0],[15.2,0],[15.7,0],[16.1,0],[16.5,0],[16.9,0],[17.3,0],[17.7,0],[18.1,0],[18.5,0],[18.9,0],[19.3,0],
[20.1,0],[20.5,0],[20.9,0],[21.3,0],[21.7,0],[22.1,0],[22.5,0],[22.9,0],[23.3,0],[24.0,0],[24.4,0],[24.8,0],[25.2,0],
[26.6,0],[27.0,0],[27.4,0],[27.8,0],[28.4,0],[28.8,0],[29.2,0],[29.6,0]
];

// intensity (1e11), 2009
const early2009 = [
[0.1,3.49],[0.2,3.11],[0.3,3.04],[0.4,3.33],[0.55,0.63],[0.65,2.28],[0.7,3.3],[0.9,3.39],[1.0,3.23],[1.1,3.36],[1.25,3.17],[1.4,3.3],[1.5,3.04],[1.6,2.98],
[1.65,0.67],[1.75,3.3],[1.85,3.36],[1.95,3.2],[2.05,3.3],[2.2,3.27],[2.3,3.39],[2.4,3.14],[2.5,3.33],[2.6,3.23],[2.75,3.3],
[2.9,3.17],[3.0,3.27],[3.1,3.2],[3.25,3.08],[3.35,3.14],[3.4,2.85],[3.5,3.23],[3.65,3.11],[3.8,3.2],[3.9,3.27],[4.0,3.36],[4.1,3.14],
[4.25,3.04],[4.35,3.14],[4.45,3.23],[4.6,3.08],[4.7,3.17],[4.8,3.01],[4.95,3.11],[5.1,3.04],[5.3,2.47],[5.4,2.79],[5.5,3.01],[5.65,3.11],
[5.75,3.08],[5.9,2.98],[6.0,3.14],[6.1,3.08],[6.2,3.2],[6.35,3.01],[6.5,3.11],[6.6,3.04],[6.65,3.17],[6.75,1.17],[6.9,3.08],[7.0,3.2],
[7.1,3.14],[7.25,3.23],[7.4,3.27],[7.5,2.95],[7.6,3.11],[7.7,2.6],[7.8,3.08],[7.95,3.14],[8.05,2.82],[8.2,2.92],[8.3,2.76],
[8.4,2.89],[8.5,2.79],[8.65,2.95],[8.8,2.98],[8.9,2.82],[9.0,2.92],[9.1,3.01],[9.25,2.76],[9.35,2.95],[9.45,2.85],[9.6,3.01],[9.7,2.79],
[9.8,2.95],[9.9,2.85],[10.05,3.04],[10.2,2.89],[10.3,2.76],[10.4,2.95],[10.5,3.01],[10.65,2.82],[10.75,2.47],[10.85,2.92],[11.0,2.98],[11.1,2.85],
[11.2,2.76],[11.3,2.0],[11.4,0.73],[11.5,2.89],[11.65,2.76],[11.75,2.85],[11.85,2.69],[12.0,2.82],[12.1,2.73],[12.2,2.63],[12.35,2.76],[12.5,2.57],
[12.6,2.79],[12.7,2.66],[12.8,2.63],[12.9,2.76],[13.05,2.95],[13.15,2.69],[13.3,2.57],[13.4,2.82],[13.5,2.63],[13.6,2.5],[13.75,2.73],[13.9,2.57],
[14.0,2.44],[14.1,2.63],[14.2,2.76],[14.35,2.5],[14.45,2.38],[14.5,2.63],[14.7,2.0],[14.75,2.5],[14.9,2.82],[15.0,2.57],[15.1,2.69],[15.3,2.47],
[15.4,2.38],[15.5,2.76],[15.6,2.12],[15.7,2.31],[15.8,2.41],[15.9,1.93],[16.0,2.19],[16.2,2.0],[16.3,3.23],[16.4,3.14],[16.5,2.98],
[16.6,2.95],[16.75,3.14],[16.85,3.3],[17.0,3.42],[17.1,0.32],[17.2,3.49],[17.3,3.33],[17.4,3.84],[17.5,3.39],[17.6,3.17],[17.7,3.8],[17.8,3.27],
[17.9,3.04],[18.0,3.2],[18.15,3.14],[18.25,3.27],[18.4,3.08],[18.5,3.2],[18.6,3.11],[18.7,3.01],[18.85,3.14],[19.0,3.04],[19.1,2.95],[19.2,3.08],
[19.3,3.01],[19.45,2.82],[19.55,3.11],[19.6,2.95],[19.7,1.49],[19.85,3.08],[20.0,3.01],[20.1,2.82],[20.2,2.95],[20.4,3.9],[20.5,3.14],[20.6,2.98],
[20.7,3.04],[20.8,2.89],[20.9,3.01],[21.0,3.11],[21.15,2.95],[21.25,1.52],[21.4,3.04],[21.5,2.95],[21.6,3.08],[21.75,3.14],[21.85,2.92],[21.95,3.01],
[22.1,2.89],[22.2,2.98],[22.3,3.14],[22.4,3.2],[22.55,3.08],[22.7,2.92],[22.8,3.01],[22.9,2.82],[23.0,3.04],[23.15,2.95],[23.25,3.46],[23.35,3.39],
[23.5,2.95],[23.6,2.85],[23.7,2.98],[23.8,2.89],[23.95,3.08],[24.1,3.17],[24.2,2.82],[24.3,2.95],[24.4,3.04],[24.55,2.85],[24.65,3.01],[24.75,2.92],
[24.9,2.98],[25.0,3.08],[25.1,2.89],[25.2,2.98],[25.3,2.5],[25.5,2.31],[25.6,2.19],[25.65,2.25],[25.75,2.38],[25.9,2.57],[26.0,2.66],[26.1,4.17],
[26.2,2.76],[26.35,2.63],[26.5,2.98],[26.6,2.44],[26.7,2.82],[26.8,2.69],[26.95,2.82],[27.05,2.73],[27.1,2.57],[27.3,2.76],[27.4,2.6],[27.5,2.69],
[27.6,3.49],[27.7,3.39],[27.8,2.73],[27.9,2.41],[28.0,2.76],[28.1,2.79],[28.25,2.76],[28.35,2.38],[28.4,2.79],[28.6,2.69],[28.7,2.82],[28.9,2.79],
[17.6,3.85],[17.7,3.82],[0.05,3.53],
[0.5,0],[2.0,0],[3.5,0],[5.1,0],[6.4,0],[8.0,0],[9.6,0],[11.0,0],[12.5,0],[14.1,0],[15.5,0],[17.0,0],[18.6,0],[20.1,0],[21.4,0],[23.0,0],[24.6,0],[26.0,0],[27.4,0],[28.5,0]
];

const late2009 = [
[0.1,1.81],[0.2,1.66],[0.3,1.57],[0.4,1.49],[0.45,0.29],[0.55,1.74],[0.65,1.24],[0.75,2.35],[0.85,1.61],[0.9,4.28],[1.0,1.76],[1.1,1.53],
[1.25,1.69],[1.35,1.33],[1.45,1.91],[1.55,1.37],[1.6,0.29],[1.65,1.64],[1.75,1.95],[1.85,2.09],[1.95,1.79],[2.05,1.6],[2.2,1.84],[2.3,1.71],
[2.4,1.5],[2.5,1.86],[2.6,1.67],[2.75,1.93],[2.9,1.63],[3.0,1.77],[3.1,1.7],[3.25,1.83],[3.35,1.58],[3.4,2.57],[3.5,1.45],[3.6,1.36],[3.65,0.48],[3.6,4.46],
[3.8,2.55],[3.9,2.23],[4.0,2.44],[4.1,2.38],[4.2,2.68],[4.25,1.94],[4.35,2.76],[4.45,1.97],[4.6,1.89],[4.7,2.02],[4.8,1.76],[4.95,1.92],
[5.1,1.69],[5.2,1.88],[5.3,1.63],[5.4,2.04],[5.5,1.84],[5.65,1.73],[5.75,1.95],[5.9,1.8],[6.0,2.01],[6.1,1.66],[6.2,1.9],[6.35,1.75],[6.3,4.82],
[6.5,1.96],[6.6,1.55],[6.65,0.6],[6.75,1.43],[6.9,1.85],[7.0,2.08],[7.1,2.24],[7.2,1.78],[7.4,2.89],[7.5,1.91],[7.6,1.99],[7.75,1.72],
[7.9,1.83],[8.0,2.05],[8.05,1.61],[8.2,2.22],[8.35,1.92],[8.4,1.49],[8.5,1.76],[8.65,1.86],[8.8,1.98],[8.9,1.8],[9.0,1.64],[9.1,1.94],
[9.25,2.26],[9.35,1.5],[9.45,1.43],[9.6,1.88],[9.7,2.03],[9.8,1.2],[9.9,1.67],[10.05,1.9],[10.2,2.31],[10.3,2.17],[10.4,2.5],[10.5,1.08],
[10.65,1.99],[10.75,1.49],[10.85,1.3],[11.0,1.82],[11.05,1.6],[11.2,1.31],[11.3,2.38],[11.4,1.89],[11.5,0.51],[11.65,2.41],[11.75,1.73],[11.9,4.59],
[11.85,1.9],[12.0,1.69],[12.1,1.95],[12.2,1.77],[12.35,1.62],[12.5,1.83],[12.6,2.02],[12.7,1.7],[12.8,1.87],[12.95,2.07],[13.05,1.8],[13.15,1.63],
[13.3,1.85],[13.4,2.24],[13.5,1.75],[13.6,2.12],[13.75,1.83],[13.9,1.98],[14.0,1.62],[14.1,1.3],[14.2,1.79],[14.35,1.49],[14.45,1.9],[14.5,2.01],
[14.7,1.73],[14.75,1.11],[14.9,2.69],[15.0,1.97],[15.1,1.67],[15.25,2.13],[15.4,1.86],[15.5,2.23],[15.6,1.75],[15.7,2.02],[15.8,3.04],[15.9,1.49],
[16.0,1.89],[16.2,1.71],[16.3,1.94],[16.4,1.76],[16.5,1.61],[16.7,2.38],[16.75,1.84],[16.85,2.06],[17.0,2.14],[17.1,0.1],[17.2,2.37],[17.3,1.68],
[17.4,1.99],[17.5,1.2],[17.6,1.88],[17.7,2.16],[17.8,3.65],[17.9,3.09],[17.9,0.54],[18.0,1.36],[18.15,2.41],[18.25,2.25],[18.35,1.27],[18.5,1.86],
[18.6,1.11],[18.7,2.01],[18.85,1.74],[19.0,2.26],[19.1,1.9],[19.2,2.05],[19.3,1.67],[19.45,0.29],[19.55,1.85],[19.6,1.0],[19.7,2.28],[19.85,1.98],
[20.0,2.12],[20.1,1.75],[20.2,1.93],[20.4,1.68],[20.5,1.84],[20.6,2.07],[20.7,2.24],[20.8,1.89],[20.9,2.01],[21.0,0.76],[21.15,1.69],[21.3,1.78],
[21.4,1.86],[21.5,1.65],[21.6,1.99],[21.75,1.73],[21.85,2.47],[21.95,1.91],[22.1,1.62],[22.2,1.75],[22.3,2.13],[22.4,1.85],[22.55,1.68],[22.7,2.02],
[22.8,1.79],[22.9,2.38],[23.0,1.9],[23.15,1.67],[23.25,1.98],[23.35,1.36],[23.5,1.49],[23.6,2.24],[23.7,1.84],[23.8,2.06],[23.95,1.69],[24.1,2.73],
[24.2,1.81],[24.3,2.03],[24.4,1.88],[24.55,2.16],[24.65,1.24],[24.75,1.7],[24.9,2.47],[25.0,2.41],[25.1,2.57],[25.2,1.89],[25.3,1.99],[25.45,2.12],
[25.6,2.54],[25.65,2.31],[25.75,2.25],[25.9,2.02],[26.0,1.85],[26.0,4.09],[26.2,1.68],[26.35,2.57],[26.5,2.38],[26.6,1.9],[26.7,1.43],[26.8,0.82],
[26.9,0.73],[27.0,0.6],[27.15,1.74],[27.3,2.25],[27.4,1.83],[27.5,1.2],[27.6,1.62],[27.75,2.06],[27.9,2.5],[28.0,2.12],[28.1,1.73],[28.25,1.89],
[28.35,1.65],[28.45,1.36],[28.6,1.55],[28.7,1.62],[28.8,1.08],
[0.2,0],[0.7,0],[1.2,0],[1.7,0],[2.2,0],[2.7,0],[3.2,0],[3.7,0],[4.2,0],[4.7,0],[5.2,0],[5.7,0],[6.2,0],[6.7,0],[7.2,0],[7.7,0],[8.2,0],[8.7,0],
[9.2,0],[9.7,0],[10.2,0],[10.7,0],[11.2,0],[11.7,0],[12.2,0],[12.7,0],[13.2,0],[13.7,0],[14.2,0],[14.7,0],[15.2,0],[15.7,0],[16.2,0],[16.7,0],
[17.2,0],[17.7,0],[18.2,0],[18.7,0],[19.2,0],[19.7,0],[20.2,0],[20.7,0],[21.2,0],[21.7,0],[22.2,0],[22.7,0],[23.2,0],[23.7,0],[24.2,0],[24.7,0],
[25.2,0],[25.7,0],[26.2,0],[26.7,0],[27.2,0],[27.7,0],[28.2,0],[28.6,0]
];

// ---- drawing ----
const tickFont = { family: '"Liberation Sans", Arial, sans-serif', size: 17.5 };

// MATLAB-style box with inward ticks on all four sides
const boxTicks = {
    id: 'boxTicks',
    beforeDatasetsDraw(chart) {
        const { ctx, chartArea: a, scales: { x, y } } = chart;
        const L = Math.round(a.left) + 0.5, R = Math.round(a.right) - 0.5;
        const T = Math.round(a.top) + 0.5, B = Math.round(a.bottom) - 0.5;
        ctx.save();
        ctx.strokeStyle = '#000';
        ctx.lineWidth = 1;
        ctx.strokeRect(L, T, R - L, B - T);
        ctx.beginPath();
        x.ticks.forEach(t => {
            const px = Math.round(x.getPixelForValue(t.value)) + 0.5;
            ctx.moveTo(px, B); ctx.lineTo(px, B - 4);
            ctx.moveTo(px, T); ctx.lineTo(px, T + 4);
        });
        y.ticks.forEach(t => {
            const py = Math.round(y.getPixelForValue(t.value)) + 0.5;
            ctx.moveTo(L, py); ctx.lineTo(L + 4, py);
            ctx.moveTo(R, py); ctx.lineTo(R - 4, py);
        });
        ctx.stroke();
        ctx.restore();
    }
};

function dots(data, color, order) {
    return {
        data: data,
        backgroundColor: color,
        borderColor: color,
        pointBackgroundColor: color,
        pointBorderColor: color,
        pointBorderWidth: 0,
        pointRadius: 3.6,
        pointHoverRadius: 3.6,
        clip: false,
        order: order
    };
}

function makePanel(id, datasets, yTicks, padTop, axisH, labelPad, xTitle) {
    new Chart(document.getElementById(id), {
        type: 'scatter',
        data: { datasets: datasets },
        options: {
            responsive: false,
            animation: false,
            devicePixelRatio: 1,
            layout: { padding: { top: padTop, right: 12, bottom: 0, left: 0 } },
            plugins: { legend: { display: false }, tooltip: { enabled: false } },
            scales: {
                x: {
                    type: 'linear',
                    min: xTicks[0], max: xTicks[xTicks.length - 1],
                    afterBuildTicks: s => { s.ticks = xTicks.map(v => ({ value: v })); },
                    ticks: { padding: labelPad, color: '#000', font: tickFont, maxRotation: 0, autoSkip: false },
                    grid: { display: false, drawTicks: false },
                    border: { display: false },
                    title: { display: !!xTitle, text: xTitle || '', color: '#000', font: tickFont, padding: { top: 0, bottom: 1 } },
                    afterFit: s => { s.height = axisH; }
                },
                y: {
                    type: 'linear',
                    min: yTicks[0], max: yTicks[yTicks.length - 1],
                    afterBuildTicks: s => { s.ticks = yTicks.map(v => ({ value: v })); },
                    ticks: { padding: 6, color: '#000', font: tickFont, autoSkip: false },
                    grid: { display: false, drawTicks: false },
                    border: { display: false },
                    afterFit: s => { s.width = 68; }
                }
            }
        },
        plugins: [boxTicks]
    });
}

makePanel('pol06', [dots(pol2006, '#0000ff', 0)], polTicks, 43, 35, 5);
makePanel('pol08', [dots(pol2008, '#0000ff', 0)], polTicks, 43, 35, 5);
makePanel('pol09', [dots(pol2009, '#0000ff', 0)], polTicks, 43, 35, 5);
makePanel('int06', [dots(late2006, '#000000', 0), dots(early2006, '#ff0000', 1)], intTicks, 63, 48, 2, dayLabels[0]);
makePanel('int08', [dots(late2008, '#000000', 0), dots(early2008, '#ff0000', 1)], intTicks, 63, 48, 2, dayLabels[1]);
makePanel('int09', [dots(late2009, '#000000', 0), dots(early2009, '#ff0000', 1)], intTicks, 63, 48, 2, dayLabels[2]);
</script>
</body>
</html>
